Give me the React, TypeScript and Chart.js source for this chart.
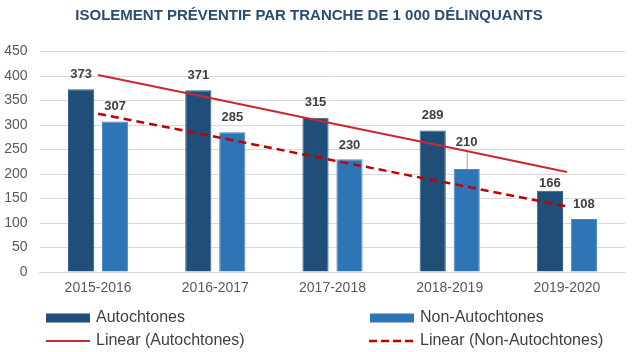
import React, { useEffect, useRef } from "react";
import { Chart, registerables } from "chart.js";

Chart.register(...registerables);

const categories = ["2015-2016", "2016-2017", "2017-2018", "2018-2019", "2019-2020"];
const autochtones = [373, 371, 315, 289, 166];
const nonAutochtones = [307, 285, 230, 210, 108];
const trendAutochtones = [402, 353, 303, 254, 204];
const trendNonAutochtones = [323, 276, 228, 181, 134];
const yMax = 450;
const yStep = 50;

const titleText = "ISOLEMENT PRÉVENTIF PAR TRANCHE DE 1 000 DÉLINQUANTS";
const legendLabels = ["Autochtones", "Non-Autochtones", "Linear (Autochtones)", "Linear (Non-Autochtones)"];

// label lift above bar top (px) — styling
const liftAuto = [15, 15, 15, 15, 7];
const liftNon = [15, 15, 14, 27, 15];

const FONT = "'Liberation Sans', Arial, sans-serif";
const DARK = "#1F4E79";
const LIGHT = "#2E75B6";
const RED = "#C9282E";
const RED_DASH = "#C00000";

const overlay = {
  id: "overlay",
  afterDatasetsDraw(chart: any) {
    const ctx = chart.ctx;
    ctx.save();
    ctx.font = `bold 13px ${FONT}`;
    ctx.fillStyle = "#404040";
    ctx.textAlign = "center";
    ctx.textBaseline = "middle";
    const sets: [number, number[], number[]][] = [
      [0, autochtones, liftAuto],
      [1, nonAutochtones, liftNon],
    ];
    sets.forEach(([di, vals, lifts]) => {
      const meta = chart.getDatasetMeta(di);
      meta.data.forEach((bar: any, i: number) => {
        const lift = lifts[i];
        ctx.fillText(String(vals[i]), bar.x, bar.y - lift);
        if (lift > 20) {
          ctx.save();
          ctx.strokeStyle = "#a6a6a6";
          ctx.lineWidth = 1;
          ctx.beginPath();
          ctx.moveTo(bar.x + 0.5, bar.y - lift + 10);
          ctx.lineTo(bar.x + 0.5, bar.y);
          ctx.stroke();
          ctx.restore();
        }
      });
    });
    ctx.restore();
  },
  afterDraw(chart: any) {
    const ctx = chart.ctx;
    ctx.save();
    // title
    ctx.font = `bold 15px ${FONT}`;
    ctx.fillStyle = "#2A4D70";
    ctx.textAlign = "center";
    ctx.textBaseline = "middle";
    ctx.fillText(titleText, 309, 16);

    // legend
    ctx.font = `16px ${FONT}`;
    ctx.fillStyle = "#404040";
    ctx.textAlign = "left";
    ctx.textBaseline = "middle";
    const r1 = 318;
    const r2 = 341;
    const lx = 46, rx = 370, sw = 44;
    ctx.fillStyle = DARK;
    ctx.fillRect(lx, r1 - 4.5, sw, 9);
    ctx.fillStyle = LIGHT;
    ctx.fillRect(rx, r1 - 4.5, sw, 9);
    ctx.strokeStyle = RED;
    ctx.lineWidth = 2;
    ctx.beginPath();
    ctx.moveTo(lx, r2);
    ctx.lineTo(lx + sw, r2);
    ctx.stroke();
    ctx.strokeStyle = RED_DASH;
    ctx.lineWidth = 2.5;
    ctx.setLineDash([8, 4]);
    ctx.beginPath();
    ctx.moveTo(rx - 1, r2);
    ctx.lineTo(rx + sw, r2);
    ctx.stroke();
    ctx.setLineDash([]);
    ctx.fillStyle = "#404040";
    ctx.fillText(legendLabels[0], lx + sw + 6, r1);
    ctx.fillText(legendLabels[1], rx + sw + 6, r1);
    ctx.fillText(legendLabels[2], lx + sw + 6, r2);
    ctx.fillText(legendLabels[3], rx + sw + 6, r2);
    ctx.restore();
  },
};

export default function App() {
  const ref = useRef<HTMLCanvasElement>(null);
  useEffect(() => {
    document.body.style.margin = "0";
    const chart = new Chart(ref.current as HTMLCanvasElement, {
      type: "bar",
      data: {
        labels: categories,
        datasets: [
          {
            type: "bar",
            label: legendLabels[0],
            data: autochtones,
            backgroundColor: DARK,
            borderColor: "#2f5f8c",
            borderWidth: 1,
            order: 2,
            categoryPercentage: 0.58,
            barPercentage: 0.77,
          },
          {
            type: "bar",
            label: legendLabels[1],
            data: nonAutochtones,
            backgroundColor: LIGHT,
            borderColor: "#4a88c2",
            borderWidth: 1,
            order: 2,
            categoryPercentage: 0.58,
            barPercentage: 0.77,
          },
          {
            type: "line",
            label: legendLabels[2],
            data: trendAutochtones,
            borderColor: RED,
            borderWidth: 2,
            pointRadius: 0,
            fill: false,
            order: 1,
          },
          {
            type: "line",
            label: legendLabels[3],
            data: trendNonAutochtones,
            borderColor: RED_DASH,
            borderWidth: 2.5,
            borderDash: [8, 5],
            pointRadius: 0,
            fill: false,
            order: 1,
          },
        ] as any,
      },
      options: {
        responsive: false,
        animation: false,
        devicePixelRatio: 1,
        layout: { padding: { top: 51.5, right: 11.5, bottom: 50, left: 0 } },
        plugins: {
          legend: { display: false },
          title: { display: false },
          tooltip: { enabled: false },
        },
        scales: {
          x: {
            grid: { display: false, drawTicks: false },
            border: { display: true, color: "#d9d9d9", width: 1 },
            ticks: {
              color: "#595959",
              font: { family: FONT, size: 14 },
              padding: 8,
            },
            afterFit: (s: any) => {
              s.height = 30;
            },
          },
          y: {
            min: 0,
            max: yMax,
            grid: { color: "#d9d9d9", lineWidth: 1, drawTicks: false },
            border: { display: false },
            ticks: {
              stepSize: yStep,
              color: "#595959",
              font: { family: FONT, size: 14 },
              padding: 12,
            },
            afterFit: (s: any) => {
              s.width = 39.5;
            },
          },
        },
      },
      plugins: [overlay],
    });
    return () => chart.destroy();
  }, []);
  return <canvas ref={ref} width={637} height={352} style={{ display: "block" }} />;
}
